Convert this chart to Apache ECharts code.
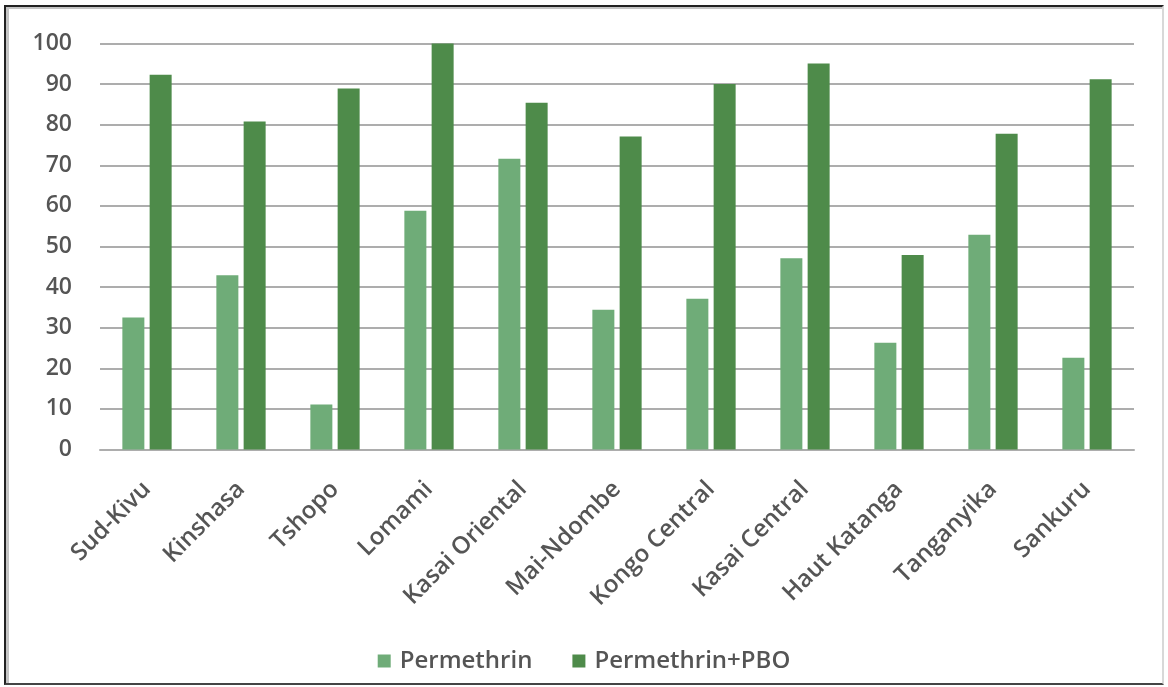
<!DOCTYPE html>
<html>
<head>
<meta charset="utf-8">
<script src="https://cdn.jsdelivr.net/npm/echarts@6/dist/echarts.min.js"></script>
<style>
  html, body { margin: 0; padding: 0; background: #ffffff; }
  #frame {
    position: absolute; left: 4px; top: 5px; width: 1160px; height: 680px;
    border-left: 2px solid #222; border-top: 2px solid #222; border-bottom: 2px solid #444;
    border-right: 2px solid #d8d8d8; box-sizing: border-box;
    box-shadow: inset 3px 2px 0 #c4c4c4;
  }
  #chart { position: absolute; left: 0; top: 0; width: 1168px; height: 687px; }
</style>
</head>
<body>
<div id="frame"></div>
<div id="chart"></div>
<script>
// Provinces of the DRC
const provinces = ['Sud-Kivu', 'Kinshasa', 'Tshopo', 'Lomami', 'Kasai Oriental', 'Mai-Ndombe',
  'Kongo Central', 'Kasai Central', 'Haut Katanga', 'Tanganyika', 'Sankuru'];
// Mortality (%) per insecticide exposure
const permethrin = [32.5, 42.9, 11.1, 58.8, 71.6, 34.4, 37.1, 47.1, 26.3, 52.9, 22.6];
const permethrinPBO = [92.3, 80.8, 88.9, 100, 85.4, 77.1, 90.0, 95.1, 47.9, 77.8, 91.2];
const seriesNames = ['Permethrin', 'Permethrin+PBO'];

const textColor = '#555555';
const fontFamily = '"Open Sans", Lato, sans-serif';
const fontWeight = 600;

const chart = echarts.init(document.getElementById('chart'), null, { renderer: 'canvas' });
chart.setOption({
  animation: false,
  textStyle: { fontFamily: fontFamily },
  grid: { left: 100, right: 34, top: 43.5, bottom: 237.5, containLabel: false },
  legend: {
    data: seriesNames,
    bottom: 9,
    left: 'center',
    itemWidth: 13,
    itemHeight: 13,
    itemGap: 40,
    icon: 'rect',
    textStyle: {
      color: textColor, fontSize: 24, fontWeight: fontWeight,
      fontFamily: fontFamily, padding: [0, 0, 0, 4]
    }
  },
  xAxis: {
    type: 'category',
    data: provinces,
    axisLine: { lineStyle: { color: '#adadad', width: 2 } },
    axisTick: { show: false },
    axisLabel: {
      rotate: 45, color: textColor, fontSize: 24, fontWeight: fontWeight,
      margin: 36, interval: 0, fontFamily: fontFamily
    }
  },
  yAxis: {
    type: 'value',
    min: 0, max: 100, interval: 10,
    axisLine: { show: false },
    axisTick: { show: false },
    splitLine: { lineStyle: { color: '#adadad', width: 2 } },
    axisLabel: {
      color: textColor, fontSize: 23, fontWeight: fontWeight,
      margin: 28, fontFamily: fontFamily
    }
  },
  series: [
    {
      name: seriesNames[0], type: 'bar', data: permethrin,
      barWidth: 22, barGap: '24%',
      itemStyle: { color: '#6fac78' }
    },
    {
      name: seriesNames[1], type: 'bar', data: permethrinPBO,
      barWidth: 22,
      itemStyle: { color: '#4e8b4a' }
    }
  ]
});
</script>
</body>
</html>
